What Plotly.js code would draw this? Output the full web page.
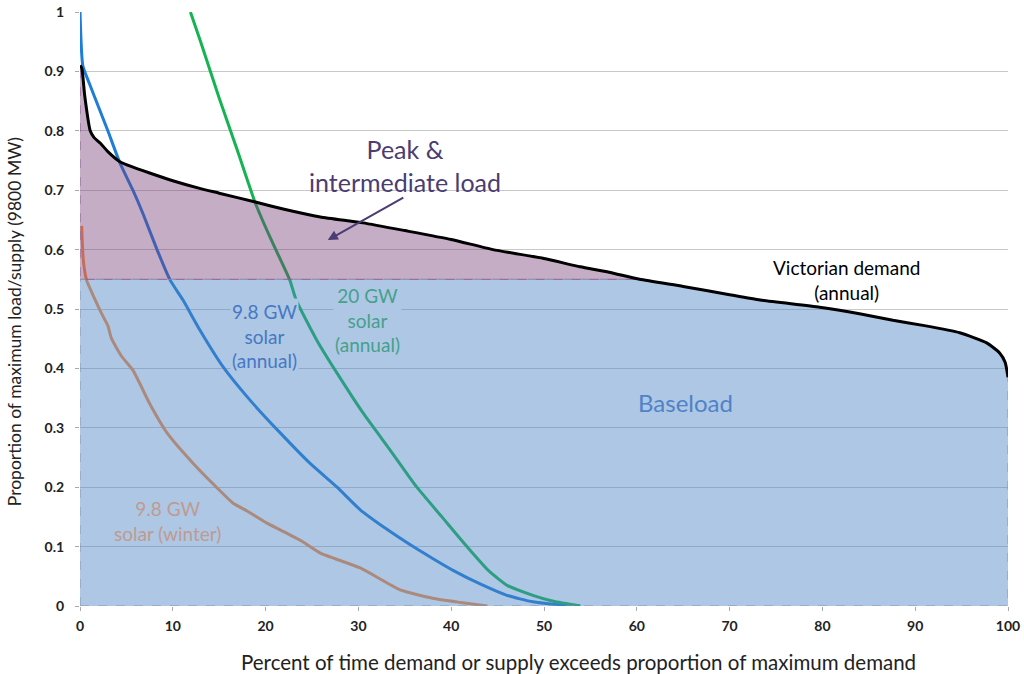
<!DOCTYPE html>
<html>
<head>
<meta charset="utf-8">
<script src="https://cdn.plot.ly/plotly-3.0.1.min.js"></script>
<style>
  body { margin: 0; background: #fff; }
  #chart { width: 1024px; height: 674px; }
</style>
</head>
<body>
<div id="chart"></div>
<script>
// Victorian annual demand duration curve (proportion of 9800 MW)
var demandX = [0, 0.2, 0.5, 1.1, 1.5, 2.2, 3, 4.3, 5.5, 7.5, 10, 12.9, 15, 18.9, 22, 25.9, 30.5, 35, 40, 44.5,
               50, 53.9, 57, 60.3, 65, 70, 73.3, 79.7, 84, 87.6, 91, 94.8, 97.7, 99.1, 99.7, 100];
var demandY = [0.91, 0.905, 0.86, 0.80, 0.789, 0.779, 0.765, 0.748, 0.740, 0.729, 0.716, 0.703, 0.695, 0.68, 0.668, 0.655, 0.645, 0.632, 0.617, 0.60,
               0.585, 0.571, 0.562, 0.55, 0.538, 0.524, 0.515, 0.503, 0.492, 0.481, 0.472, 0.46, 0.443, 0.426, 0.41, 0.385];

// 9.8 GW solar, annual
var solar98X = [0, 0.3, 1, 2, 3, 4.3, 5.7, 6.8, 8.3, 9.7, 11.1, 12.9, 15.4, 18.3, 21.6, 24.8, 27.7, 30.2, 33, 35.9, 38, 40.2, 43, 46, 48.8, 51, 53.9];
var solar98Y = [1.0, 0.91, 0.88, 0.84, 0.80, 0.746, 0.70, 0.66, 0.60, 0.549, 0.515, 0.465, 0.403, 0.347, 0.291, 0.24, 0.2, 0.162, 0.13, 0.10, 0.08, 0.06, 0.038, 0.018, 0.007, 0.003, 0];

// 20 GW solar, annual
var solar20X = [11.9, 13, 15, 17, 18.9, 20.5, 22.6, 23.3, 25.5, 27.7, 30.5, 33.4, 36.3, 39, 41.7, 44, 46, 48.8, 51, 53.9];
var solar20Y = [1.0, 0.95, 0.855, 0.765, 0.678, 0.62, 0.549, 0.515, 0.448, 0.392, 0.325, 0.263, 0.2, 0.15, 0.10, 0.06, 0.035, 0.018, 0.008, 0];

// 9.8 GW solar, winter
var winterX = [0.18, 0.35, 0.7, 1.5, 2.4, 3.0, 3.4, 4.5, 5.7, 7.5, 9.4, 12.2, 14.7, 16.5, 18, 20.1, 23.7, 25.9, 30.2, 34.5, 38, 41, 43.9];
var winterY = [0.64, 0.583, 0.549, 0.52, 0.49, 0.472, 0.45, 0.42, 0.397, 0.341, 0.291, 0.24, 0.2, 0.173, 0.16, 0.14, 0.111, 0.089, 0.064, 0.027, 0.013, 0.006, 0];

var baseLevel = 0.55;

var FONT = 'Lato, "Open Sans", sans-serif';
var BLUE_FILL = 'rgba(75,130,195,0.45)';
var PURPLE_FILL = 'rgba(120,60,120,0.42)';

// baseload polygon: under demand, capped at base level
var baseX = [0], baseY = [0];
for (var i = 0; i < demandX.length; i++) {
  baseX.push(demandX[i]);
  baseY.push(Math.min(demandY[i], baseLevel));
}
baseX.push(demandX[demandX.length - 1], 0);
baseY.push(0, 0);

// peak & intermediate polygon: between base level and demand
var peakX = [], peakY = [];
for (var i = 0; i < demandX.length; i++) {
  if (demandY[i] >= baseLevel) {
    peakX.push(demandX[i]);
    peakY.push(demandY[i]);
  }
}
peakX.push(0, 0);
peakY.push(baseLevel, demandY[0]);

function line(x, y, color, width) {
  return {
    type: 'scatter', mode: 'lines', x: x, y: y,
    line: { color: color, width: width, shape: 'spline', smoothing: 0.5 },
    hoverinfo: 'skip', showlegend: false
  };
}

var winter = line(winterX, winterY, 'rgb(250,145,70)', 3);
var solar98 = line(solar98X, solar98Y, 'rgb(30,125,215)', 3);
var solar20 = line(solar20X, solar20Y, 'rgb(20,180,80)', 3);

var baseFill = {
  type: 'scatter', mode: 'lines', x: baseX, y: baseY, fill: 'toself',
  fillcolor: BLUE_FILL,
  line: { color: 'rgb(130,150,180)', width: 1, dash: 'dash' },
  hoverinfo: 'skip', showlegend: false
};

var peakFill = {
  type: 'scatter', mode: 'lines', x: peakX, y: peakY, fill: 'toself',
  fillcolor: PURPLE_FILL,
  line: { color: 'rgb(140,90,150)', width: 1, dash: 'dash' },
  hoverinfo: 'skip', showlegend: false
};

var demand = line(demandX, demandY, '#000', 3);

var data = [winter, solar98, solar20, baseFill, peakFill, demand];

var tickFont = { family: FONT, size: 14, color: '#222', weight: 'bold' };

var layout = {
  width: 1024, height: 674,
  margin: { l: 80, r: 16, t: 12, b: 68 },
  paper_bgcolor: '#fff', plot_bgcolor: '#fff',
  font: { family: FONT, color: '#222' },
  showlegend: false,
  xaxis: {
    range: [0, 100], dtick: 10, showgrid: false, zeroline: false, showline: false,
    ticks: 'outside', ticklen: 4, tickcolor: '#aaa', ticklabelstandoff: 3,
    tickfont: tickFont
  },
  yaxis: {
    range: [0, 1], dtick: 0.1, showgrid: true, gridcolor: '#c8c8c8', gridwidth: 1,
    zeroline: false, showline: false,
    ticks: 'outside', ticklen: 4, tickcolor: '#aaa', ticklabelstandoff: 8,
    tickfont: tickFont
  },
  annotations: [
    { xref: 'paper', yref: 'paper', x: 0.537, y: -0.094, xanchor: 'center', yanchor: 'middle',
      showarrow: false,
      text: 'Percent of time demand or supply exceeds proportion of maximum demand',
      font: { family: FONT, size: 20.5, color: '#222' } },
    { xref: 'paper', yref: 'paper', x: -0.071, y: 0.478, xanchor: 'center', yanchor: 'middle',
      showarrow: false, textangle: -90,
      text: 'Proportion of maximum load/supply (9800 MW)',
      font: { family: FONT, size: 17.5, color: '#222' } },
    { x: 26.7, y: 0.616, ax: 35.0, ay: 0.689, axref: 'x', ayref: 'y', xref: 'x', yref: 'y',
      showarrow: true, arrowhead: 2, arrowsize: 1, arrowwidth: 2, arrowcolor: 'rgb(75,60,115)', text: '' },
    { x: 35.0, y: 0.742, showarrow: false, text: 'Peak &<br>intermediate load',
      font: { family: FONT, size: 25, color: 'rgb(75,60,115)' } },
    { x: 82.6, y: 0.549, showarrow: false, text: 'Victorian demand<br>(annual)',
      font: { family: FONT, size: 19, color: '#000' } },
    { x: 65.2, y: 0.343, showarrow: false, text: 'Baseload',
      font: { family: FONT, size: 24, color: 'rgb(80,130,200)' } },
    { x: 19.9, y: 0.455, showarrow: false, text: '9.8 GW<br>solar<br>(annual)',
      bgcolor: 'rgb(174,199,228)',
      font: { family: FONT, size: 19, color: 'rgb(70,120,195)' } },
    { x: 31.0, y: 0.481, showarrow: false, text: '20 GW<br>solar<br>(annual)',
      bgcolor: 'rgb(174,199,228)',
      font: { family: FONT, size: 19, color: 'rgb(70,160,140)' } },
    { x: 9.4, y: 0.143, showarrow: false, text: '9.8 GW<br>solar (winter)',
      font: { family: FONT, size: 19, color: 'rgb(190,155,145)' } }
  ]
};

Plotly.newPlot('chart', data, layout, { displayModeBar: false, staticPlot: true });
</script>
</body>
</html>
